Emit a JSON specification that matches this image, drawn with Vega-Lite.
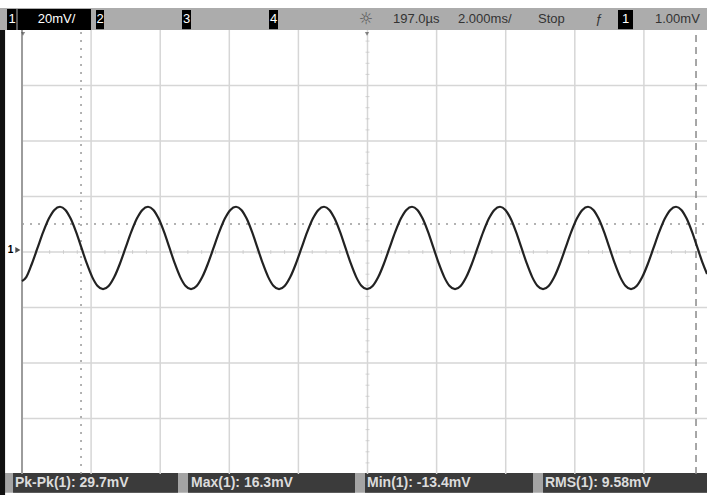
{
  "$schema": "https://vega.github.io/schema/vega-lite/v6.json",
  "width": 707,
  "height": 495,
  "autosize": {"type": "none"},
  "padding": 0,
  "background": "white",
  "config": {"view": {"stroke": null}},
  "encoding": {
    "x": {"field": "t", "type": "quantitative", "scale": {"domain": [-0.637, 19.826], "nice": false, "zero": false}, "axis": null},
    "y": {"field": "v", "type": "quantitative", "scale": {"domain": [-87.57, 90.81], "nice": false, "zero": false}, "axis": null}
  },
  "datasets": {
    "wave": [
      {"t": 0, "v": -10.5}, {"t": 0.123, "v": -9.05}, {"t": 0.286, "v": -4.23}, {"t": 0.449, "v": 1.45}, {"t": 0.612, "v": 7.13}, {"t": 0.774, "v": 11.95}, {"t": 0.937, "v": 15.17},
      {"t": 1.100, "v": 16.3}, {"t": 1.256, "v": 15.17}, {"t": 1.411, "v": 11.95}, {"t": 1.567, "v": 7.13}, {"t": 1.722, "v": 1.45}, {"t": 1.878, "v": -4.23}, {"t": 2.033, "v": -9.05}, {"t": 2.189, "v": -12.27}, {"t": 2.345, "v": -13.4}, {"t": 2.507, "v": -12.27}, {"t": 2.670, "v": -9.05}, {"t": 2.833, "v": -4.23}, {"t": 2.996, "v": 1.45}, {"t": 3.159, "v": 7.13}, {"t": 3.321, "v": 11.95}, {"t": 3.484, "v": 15.17},
      {"t": 3.647, "v": 16.3}, {"t": 3.803, "v": 15.17}, {"t": 3.958, "v": 11.95}, {"t": 4.114, "v": 7.13}, {"t": 4.269, "v": 1.45}, {"t": 4.425, "v": -4.23}, {"t": 4.580, "v": -9.05}, {"t": 4.736, "v": -12.27}, {"t": 4.892, "v": -13.4}, {"t": 5.054, "v": -12.27}, {"t": 5.217, "v": -9.05}, {"t": 5.380, "v": -4.23}, {"t": 5.543, "v": 1.45}, {"t": 5.706, "v": 7.13}, {"t": 5.868, "v": 11.95}, {"t": 6.031, "v": 15.17},
      {"t": 6.194, "v": 16.3}, {"t": 6.350, "v": 15.17}, {"t": 6.505, "v": 11.95}, {"t": 6.661, "v": 7.13}, {"t": 6.816, "v": 1.45}, {"t": 6.972, "v": -4.23}, {"t": 7.127, "v": -9.05}, {"t": 7.283, "v": -12.27}, {"t": 7.439, "v": -13.4}, {"t": 7.601, "v": -12.27}, {"t": 7.764, "v": -9.05}, {"t": 7.927, "v": -4.23}, {"t": 8.090, "v": 1.45}, {"t": 8.253, "v": 7.13}, {"t": 8.415, "v": 11.95}, {"t": 8.578, "v": 15.17},
      {"t": 8.741, "v": 16.3}, {"t": 8.897, "v": 15.17}, {"t": 9.052, "v": 11.95}, {"t": 9.208, "v": 7.13}, {"t": 9.363, "v": 1.45}, {"t": 9.519, "v": -4.23}, {"t": 9.674, "v": -9.05}, {"t": 9.830, "v": -12.27}, {"t": 9.986, "v": -13.4}, {"t": 10.148, "v": -12.27}, {"t": 10.311, "v": -9.05}, {"t": 10.474, "v": -4.23}, {"t": 10.637, "v": 1.45}, {"t": 10.800, "v": 7.13}, {"t": 10.962, "v": 11.95}, {"t": 11.125, "v": 15.17},
      {"t": 11.288, "v": 16.3}, {"t": 11.444, "v": 15.17}, {"t": 11.599, "v": 11.95}, {"t": 11.755, "v": 7.13}, {"t": 11.910, "v": 1.45}, {"t": 12.066, "v": -4.23}, {"t": 12.221, "v": -9.05}, {"t": 12.377, "v": -12.27}, {"t": 12.533, "v": -13.4}, {"t": 12.695, "v": -12.27}, {"t": 12.858, "v": -9.05}, {"t": 13.021, "v": -4.23}, {"t": 13.184, "v": 1.45}, {"t": 13.347, "v": 7.13}, {"t": 13.509, "v": 11.95}, {"t": 13.672, "v": 15.17},
      {"t": 13.835, "v": 16.3}, {"t": 13.991, "v": 15.17}, {"t": 14.146, "v": 11.95}, {"t": 14.302, "v": 7.13}, {"t": 14.457, "v": 1.45}, {"t": 14.613, "v": -4.23}, {"t": 14.768, "v": -9.05}, {"t": 14.924, "v": -12.27}, {"t": 15.080, "v": -13.4}, {"t": 15.242, "v": -12.27}, {"t": 15.405, "v": -9.05}, {"t": 15.568, "v": -4.23}, {"t": 15.731, "v": 1.45}, {"t": 15.894, "v": 7.13}, {"t": 16.056, "v": 11.95}, {"t": 16.219, "v": 15.17},
      {"t": 16.382, "v": 16.3}, {"t": 16.538, "v": 15.17}, {"t": 16.693, "v": 11.95}, {"t": 16.849, "v": 7.13}, {"t": 17.004, "v": 1.45}, {"t": 17.160, "v": -4.23}, {"t": 17.315, "v": -9.05}, {"t": 17.471, "v": -12.27}, {"t": 17.627, "v": -13.4}, {"t": 17.789, "v": -12.27}, {"t": 17.952, "v": -9.05}, {"t": 18.115, "v": -4.23}, {"t": 18.278, "v": 1.45}, {"t": 18.441, "v": 7.13}, {"t": 18.603, "v": 11.95}, {"t": 18.766, "v": 15.17},
      {"t": 18.929, "v": 16.3}, {"t": 19.085, "v": 15.17}, {"t": 19.240, "v": 11.95}, {"t": 19.396, "v": 7.13}, {"t": 19.551, "v": 1.45}, {"t": 19.707, "v": -4.23}, {"t": 19.826, "v": -7.92}
    ],
    "vgrid": [
      {"t": 2, "t2": 2, "v": -80, "v2": 80}, {"t": 4, "t2": 4, "v": -80, "v2": 80}, {"t": 6, "t2": 6, "v": -80, "v2": 80},
      {"t": 8, "t2": 8, "v": -80, "v2": 80}, {"t": 10, "t2": 10, "v": -80, "v2": 80}, {"t": 12, "t2": 12, "v": -80, "v2": 80},
      {"t": 14, "t2": 14, "v": -80, "v2": 80}, {"t": 16, "t2": 16, "v": -80, "v2": 80}, {"t": 18, "t2": 18, "v": -80, "v2": 80},
      {"t": 0, "t2": 19.826, "v": -60, "v2": -60}, {"t": 0, "t2": 19.826, "v": -40, "v2": -40}, {"t": 0, "t2": 19.826, "v": -20, "v2": -20},
      {"t": 0, "t2": 19.826, "v": 0, "v2": 0}, {"t": 0, "t2": 19.826, "v": 20, "v2": 20}, {"t": 0, "t2": 19.826, "v": 40, "v2": 40},
      {"t": 0, "t2": 19.826, "v": 60, "v2": 60}
    ],
    "htick": [
      {"t": 0.4, "v": 0}, {"t": 0.8, "v": 0}, {"t": 1.2, "v": 0}, {"t": 1.6, "v": 0}, {"t": 2.4, "v": 0}, {"t": 2.8, "v": 0}, {"t": 3.2, "v": 0}, {"t": 3.6, "v": 0},
      {"t": 4.4, "v": 0}, {"t": 4.8, "v": 0}, {"t": 5.2, "v": 0}, {"t": 5.6, "v": 0}, {"t": 6.4, "v": 0}, {"t": 6.8, "v": 0}, {"t": 7.2, "v": 0}, {"t": 7.6, "v": 0},
      {"t": 8.4, "v": 0}, {"t": 8.8, "v": 0}, {"t": 9.2, "v": 0}, {"t": 9.6, "v": 0}, {"t": 10.4, "v": 0}, {"t": 10.8, "v": 0}, {"t": 11.2, "v": 0}, {"t": 11.6, "v": 0},
      {"t": 12.4, "v": 0}, {"t": 12.8, "v": 0}, {"t": 13.2, "v": 0}, {"t": 13.6, "v": 0}, {"t": 14.4, "v": 0}, {"t": 14.8, "v": 0}, {"t": 15.2, "v": 0}, {"t": 15.6, "v": 0},
      {"t": 16.4, "v": 0}, {"t": 16.8, "v": 0}, {"t": 17.2, "v": 0}, {"t": 17.6, "v": 0}, {"t": 18.4, "v": 0}, {"t": 18.8, "v": 0}, {"t": 19.2, "v": 0}, {"t": 19.6, "v": 0}
    ],
    "vtick": [
      {"t": 10, "v": -76}, {"t": 10, "v": -72}, {"t": 10, "v": -68}, {"t": 10, "v": -64}, {"t": 10, "v": -56}, {"t": 10, "v": -52}, {"t": 10, "v": -48}, {"t": 10, "v": -44},
      {"t": 10, "v": -36}, {"t": 10, "v": -32}, {"t": 10, "v": -28}, {"t": 10, "v": -24}, {"t": 10, "v": -16}, {"t": 10, "v": -12}, {"t": 10, "v": -8}, {"t": 10, "v": -4},
      {"t": 10, "v": 4}, {"t": 10, "v": 8}, {"t": 10, "v": 12}, {"t": 10, "v": 16}, {"t": 10, "v": 24}, {"t": 10, "v": 28}, {"t": 10, "v": 32}, {"t": 10, "v": 36},
      {"t": 10, "v": 44}, {"t": 10, "v": 48}, {"t": 10, "v": 52}, {"t": 10, "v": 56}, {"t": 10, "v": 64}, {"t": 10, "v": 68}, {"t": 10, "v": 72}, {"t": 10, "v": 76}
    ],
    "dotted": [
      {"t": 1.708, "t2": 1.708, "v": -80, "v2": 80},
      {"t": 0, "t2": 19.826, "v": 10.1, "v2": 10.1}
    ]
  },
  "layer": [
    {"data": {"values": [{"t": -0.637, "t2": 19.826, "v": 80, "v2": 87.9}]}, "mark": {"type": "rect", "color": "#acacac"}, "encoding": {"x2": {"field": "t2"}, "y2": {"field": "v2"}}},
    {"data": {"values": [{"t": -0.637, "t2": 19.826, "v": -79.6, "v2": -86.8}]}, "mark": {"type": "rect", "color": "#a4a4a4"}, "encoding": {"x2": {"field": "t2"}, "y2": {"field": "v2"}}},
    {"data": {"values": [
      {"t": -0.26, "t2": 4.515, "v": -79.6, "v2": -86.8},
      {"t": 4.805, "t2": 9.638, "v": -79.6, "v2": -86.8},
      {"t": 9.928, "t2": 14.79, "v": -79.6, "v2": -86.8},
      {"t": 15.08, "t2": 19.826, "v": -79.6, "v2": -86.8}
    ]}, "mark": {"type": "rect", "color": "#3b3b3b"}, "encoding": {"x2": {"field": "t2"}, "y2": {"field": "v2"}}},
    {"data": {"values": [
      {"t": -0.434, "t2": -0.16, "v": 80, "v2": 87.6},
      {"t": -0.13, "t2": 1.997, "v": 80, "v2": 87.6},
      {"t": 2.142, "t2": 2.373, "v": 80.3, "v2": 87.2},
      {"t": 4.631, "t2": 4.891, "v": 80.3, "v2": 87.2},
      {"t": 7.149, "t2": 7.41, "v": 80.3, "v2": 87.2},
      {"t": 17.25, "t2": 17.685, "v": 80.3, "v2": 87.2}
    ]}, "mark": {"type": "rect", "color": "#000000"}, "encoding": {"x2": {"field": "t2"}, "y2": {"field": "v2"}}},
    {"data": {"values": [{"t": -0.637, "t2": -0.49, "v": 80, "v2": -87.57}]}, "mark": {"type": "rect", "color": "#111111"}, "encoding": {"x2": {"field": "t2"}, "y2": {"field": "v2"}}},
    {"data": {"name": "vgrid"}, "mark": {"type": "rule", "color": "#d6d6d6", "strokeWidth": 1.5}, "encoding": {"x2": {"field": "t2"}, "y2": {"field": "v2"}}},
    {"data": {"values": [{"t": 0, "t2": 0, "v": -80, "v2": 80}]}, "mark": {"type": "rule", "color": "#9c9c9c", "strokeWidth": 2}, "encoding": {"x2": {"field": "t2"}, "y2": {"field": "v2"}}},
    {"data": {"name": "htick"}, "mark": {"type": "tick", "orient": "vertical", "color": "#c4c4c4", "size": 4, "thickness": 1}},
    {"data": {"name": "vtick"}, "mark": {"type": "tick", "orient": "horizontal", "color": "#c4c4c4", "size": 4, "thickness": 1}},
    {"data": {"name": "dotted"}, "mark": {"type": "rule", "color": "#999999", "strokeWidth": 1.5, "strokeDash": [2, 6]}, "encoding": {"x2": {"field": "t2"}, "y2": {"field": "v2"}}},
    {"data": {"values": [{"t": 19.508, "t2": 19.508, "v": -80, "v2": 80}]}, "mark": {"type": "rule", "color": "#8a8a8a", "strokeWidth": 1.5, "strokeDash": [7, 5]}, "encoding": {"x2": {"field": "t2"}, "y2": {"field": "v2"}}},
    {"data": {"name": "wave"}, "mark": {"type": "line", "color": "#222222", "strokeWidth": 2.2, "interpolate": "monotone"}},
    {"data": {"values": [{"t": 0.03, "v": 78.6}, {"t": 9.986, "v": 78.6}]}, "mark": {"type": "point", "shape": "triangle-down", "filled": true, "color": "#555555", "size": 18}},
    {"data": {"values": [{"t": -0.12, "v": 0.7}]}, "mark": {"type": "point", "shape": "triangle-right", "filled": true, "color": "#000000", "size": 35}},
    {"data": {"values": [{"t": -0.33, "v": 0.7, "label": "1"}]}, "mark": {"type": "text", "color": "#000000", "fontSize": 10, "fontWeight": "bold", "font": "Liberation Sans", "baseline": "middle", "align": "center"}, "encoding": {"text": {"field": "label"}}},
    {"data": {"values": [
      {"t": -0.289, "v": 83.8, "label": "1"},
      {"t": 1.0, "v": 83.8, "label": "20mV/"},
      {"t": 2.258, "v": 83.8, "label": "2"},
      {"t": 4.761, "v": 83.8, "label": "3"},
      {"t": 7.279, "v": 83.8, "label": "4"},
      {"t": 17.468, "v": 83.8, "label": "1"}
    ]}, "mark": {"type": "text", "color": "#ffffff", "fontSize": 13, "font": "Liberation Sans", "baseline": "middle", "align": "center"}, "encoding": {"text": {"field": "label"}}},
    {"data": {"values": [
      {"t": 9.957, "v": 83.8, "label": "☼"}
    ]}, "mark": {"type": "text", "color": "#555555", "fontSize": 16, "font": "DejaVu Sans", "baseline": "middle", "align": "center"}, "encoding": {"text": {"field": "label"}}},
    {"data": {"values": [
      {"t": 10.738, "v": 83.8, "label": "197.0µs"},
      {"t": 12.62, "v": 83.8, "label": "2.000ms/"},
      {"t": 14.935, "v": 83.8, "label": "Stop"},
      {"t": 16.6, "v": 83.8, "label": "ƒ"},
      {"t": 18.321, "v": 83.8, "label": "1.00mV"}
    ]}, "mark": {"type": "text", "color": "#333333", "fontSize": 13, "font": "Liberation Sans", "baseline": "middle", "align": "left"}, "encoding": {"text": {"field": "label"}}},
    {"data": {"values": [
      {"t": -0.203, "v": -83.2, "label": "Pk-Pk(1): 29.7mV"},
      {"t": 4.891, "v": -83.2, "label": "Max(1): 16.3mV"},
      {"t": 9.986, "v": -83.2, "label": "Min(1): -13.4mV"},
      {"t": 15.137, "v": -83.2, "label": "RMS(1): 9.58mV"}
    ]}, "mark": {"type": "text", "color": "#dcdcdc", "fontSize": 14, "fontWeight": "bold", "font": "Liberation Sans", "baseline": "middle", "align": "left"}, "encoding": {"text": {"field": "label"}}}
  ]
}
